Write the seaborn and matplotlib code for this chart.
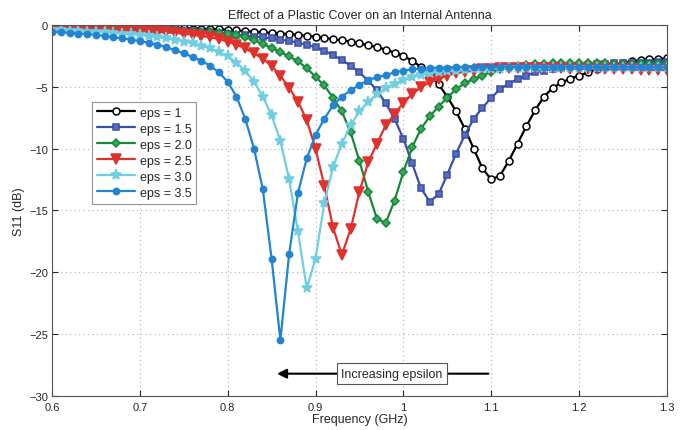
import numpy as np
import pandas as pd
import matplotlib
matplotlib.use("Agg")
import matplotlib.pyplot as plt
import seaborn as sns

# frequency points (GHz), 0.6 .. 1.3 in 0.01 steps
freq = [round(0.60 + 0.01 * i, 2) for i in range(71)]

s11_eps1 = [-0.1, -0.1, -0.1, -0.1, -0.1, -0.1, -0.15, -0.15, -0.15, -0.15,
            -0.2, -0.2, -0.2, -0.2, -0.25, -0.25, -0.3, -0.3, -0.35, -0.35,
            -0.4, -0.45, -0.5, -0.55, -0.6, -0.65, -0.7, -0.75, -0.8, -0.9,
            -0.95, -1.05, -1.15, -1.25, -1.35, -1.5, -1.65, -1.8, -2.0, -2.25,
            -2.5, -2.9, -3.4, -4.0, -4.8, -5.8, -7.0, -8.4, -10.0, -11.6,
            -12.5, -12.2, -11.0, -9.6, -8.2, -6.9, -5.8, -5.1, -4.65, -4.35,
            -4.1, -3.85, -3.6, -3.4, -3.2, -3.05, -2.95, -2.85, -2.8, -2.75,
            -2.7]
s11_eps15 = [-0.2, -0.2, -0.2, -0.2, -0.25, -0.25, -0.25, -0.3, -0.3, -0.3,
             -0.35, -0.35, -0.4, -0.4, -0.45, -0.5, -0.5, -0.55, -0.6, -0.65,
             -0.7, -0.8, -0.85, -0.95, -1.0, -1.1, -1.2, -1.3, -1.45, -1.6,
             -1.8, -2.1, -2.45, -2.85, -3.3, -3.85, -4.5, -5.3, -6.35, -7.6,
             -9.2, -11.2, -13.2, -14.3, -13.7, -12.1, -10.4, -8.9, -7.6, -6.7,
             -5.9, -5.2, -4.75, -4.4, -4.1, -3.85, -3.7, -3.55, -3.45, -3.35,
             -3.3, -3.25, -3.2, -3.15, -3.1, -3.1, -3.05, -3.05, -3.05, -3.0,
             -3.0]
s11_eps20 = [-0.3, -0.3, -0.3, -0.3, -0.3, -0.3, -0.35, -0.35, -0.35, -0.4,
             -0.4, -0.4, -0.45, -0.45, -0.5, -0.5, -0.55, -0.6, -0.6, -0.65,
             -0.7, -0.8, -1.0, -1.25, -1.55, -1.85, -2.2, -2.55, -2.95, -3.5,
             -4.2, -4.9, -5.9, -7.0, -8.7, -11.0, -13.5, -15.7, -16.0, -14.2,
             -11.9, -9.9, -8.4, -7.4, -6.6, -5.9, -5.2, -4.7, -4.4, -4.1,
             -3.8, -3.6, -3.5, -3.35, -3.25, -3.2, -3.15, -3.1, -3.1, -3.1,
             -3.1, -3.1, -3.1, -3.1, -3.15, -3.15, -3.15, -3.2, -3.2, -3.2,
             -3.2]
s11_eps25 = [-0.3, -0.3, -0.3, -0.3, -0.35, -0.35, -0.35, -0.4, -0.4, -0.45,
             -0.45, -0.5, -0.55, -0.6, -0.65, -0.7, -0.8, -0.9, -1.0, -1.15,
             -1.35, -1.6, -1.9, -2.3, -2.75, -3.3, -4.1, -5.1, -6.2, -7.7,
             -10.0, -13.0, -16.4, -18.6, -16.5, -13.5, -11.1, -9.6, -8.1, -7.2,
             -6.3, -5.6, -5.05, -4.65, -4.35, -4.1, -3.9, -3.8, -3.7, -3.6,
             -3.55, -3.5, -3.5, -3.5, -3.5, -3.5, -3.5, -3.5, -3.5, -3.55,
             -3.55, -3.55, -3.55, -3.6, -3.6, -3.6, -3.6, -3.65, -3.65, -3.65,
             -3.65]
s11_eps30 = [-0.45, -0.45, -0.5, -0.5, -0.55, -0.55, -0.6, -0.65, -0.7, -0.75,
             -0.8, -0.9, -1.0, -1.1, -1.2, -1.35, -1.5, -1.7, -1.9, -2.2,
             -2.55, -3.05, -3.7, -4.6, -5.8, -7.3, -9.4, -12.5, -16.7, -21.3,
             -18.9, -14.4, -11.5, -9.6, -8.1, -7.0, -6.2, -5.6, -5.1, -4.75,
             -4.45, -4.25, -4.05, -3.9, -3.8, -3.75, -3.7, -3.65, -3.6, -3.6,
             -3.55, -3.55, -3.5, -3.5, -3.5, -3.5, -3.5, -3.5, -3.5, -3.45,
             -3.45, -3.45, -3.45, -3.45, -3.45, -3.45, -3.45, -3.45, -3.45, -3.45,
             -3.45]
s11_eps35 = [-0.55, -0.6, -0.65, -0.7, -0.75, -0.8, -0.9, -1.0, -1.1, -1.2,
             -1.3, -1.45, -1.6, -1.8, -2.05, -2.3, -2.6, -2.9, -3.3, -3.85,
             -4.6, -5.8, -7.6, -10.0, -13.3, -18.9, -25.5, -18.5, -13.6, -10.8,
             -8.9, -7.6, -6.5, -5.8, -5.3, -4.85, -4.45, -4.25, -4.05, -3.85,
             -3.7, -3.6, -3.55, -3.5, -3.45, -3.45, -3.4, -3.4, -3.4, -3.4,
             -3.4, -3.4, -3.4, -3.4, -3.4, -3.4, -3.4, -3.4, -3.4, -3.4,
             -3.4, -3.4, -3.4, -3.4, -3.4, -3.4, -3.4, -3.4, -3.4, -3.4,
             -3.4]

labels = ["eps = 1", "eps = 1.5", "eps = 2.0", "eps = 2.5", "eps = 3.0", "eps = 3.5"]
series = [s11_eps1, s11_eps15, s11_eps20, s11_eps25, s11_eps30, s11_eps35]
colors = ["#000000", "#3a4fa6", "#17883a", "#e0312c", "#6fcfe0", "#2284d2"]
face = ["white", "#5a6cc0", "#3aa85a", "#e0312c", "#6fcfe0", "#2284d2"]
markers = ["o", "s", "D", "v", "*", "o"]
msizes = [5, 5, 4.5, 6.5, 8, 4.5]

sns.set_style("ticks")
plt.rcParams["font.family"] = ["Liberation Sans", "DejaVu Sans"]

fig = plt.figure(figsize=(6.84, 4.31), dpi=100)
ax = fig.add_axes([0.076, 0.079, 0.899, 0.861])

for lab, vals, c, fc, m, ms in zip(labels, series, colors, face, markers, msizes):
    df = pd.DataFrame({"Frequency": freq, "S11": vals})
    sns.lineplot(data=df, x="Frequency", y="S11", ax=ax, color=c, label=lab,
                 marker=m, markersize=ms, markerfacecolor=fc, markeredgecolor=c,
                 markeredgewidth=1.1, linewidth=1.6)

ax.set_xlim(0.6, 1.3)
ax.set_ylim(-30, 0)
ax.set_xticks([0.6, 0.7, 0.8, 0.9, 1.0, 1.1, 1.2, 1.3])
ax.set_xticklabels(["0.6", "0.7", "0.8", "0.9", "1", "1.1", "1.2", "1.3"])
ax.set_yticks([-30, -25, -20, -15, -10, -5, 0])
ax.grid(True, linestyle=(0, (1, 3)), color="#b0b0b0", linewidth=0.8)
ax.tick_params(direction="in", labelsize=8, length=4, top=True, right=True)
ax.tick_params(axis="x", pad=4)
ax.tick_params(axis="y", pad=3)
for sp in ax.spines.values():
    sp.set_color("#555555")
    sp.set_linewidth(0.8)

ax.set_xlabel("Frequency (GHz)", fontsize=9, labelpad=1)
ax.set_ylabel("S11 (dB)", fontsize=9, labelpad=3)
ax.set_title("Effect of a Plastic Cover on an Internal Antenna", fontsize=9, pad=5)

leg = ax.legend(loc="upper left", bbox_to_anchor=(0.055, 0.81), fontsize=9,
                handlelength=3.0, frameon=True, fancybox=False, borderpad=0.4,
                labelspacing=0.32, handletextpad=0.4)
leg.get_frame().set_edgecolor("#777777")
leg.get_frame().set_linewidth(0.8)

ax.annotate("", xy=(0.853, -28.2), xytext=(1.1, -28.2),
            arrowprops=dict(arrowstyle="-|>", color="black", lw=1.5, mutation_scale=14))
ax.text(0.987, -28.2, "Increasing epsilon", ha="center", va="center", fontsize=9,
        bbox=dict(boxstyle="square,pad=0.35", facecolor="white", edgecolor="#555555", linewidth=0.8))

plt.savefig("out.png", dpi=100)
